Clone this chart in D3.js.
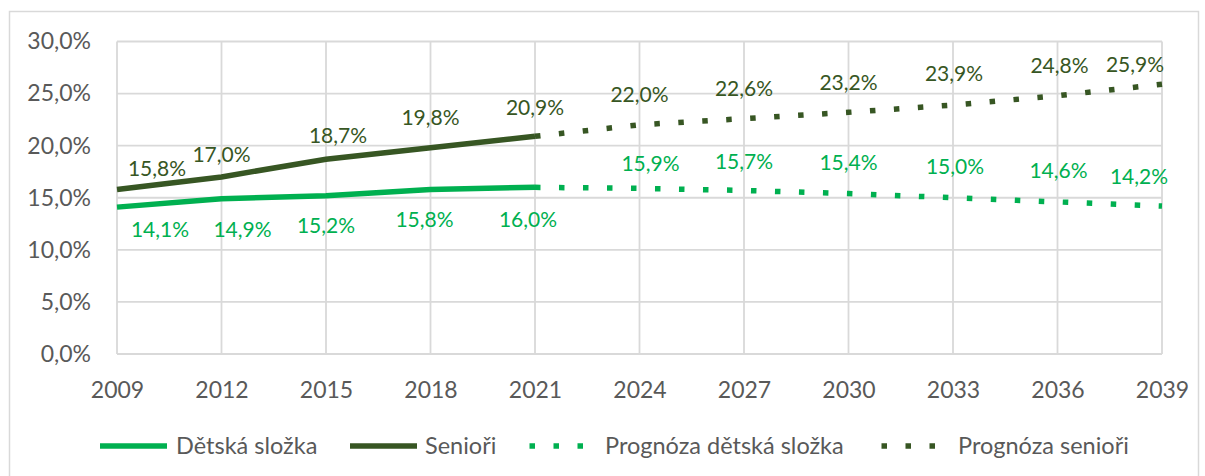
<!DOCTYPE html>
<html>
<head>
<meta charset="utf-8">
<script src="https://cdn.jsdelivr.net/npm/d3@7"></script>
<style>
  html, body { margin: 0; padding: 0; background: #fff; }
  svg { display: block; }
  text { font-family: Lato, "Open Sans", sans-serif; }
</style>
</head>
<body>
<svg id="chart" width="1205" height="476"></svg>
<script>
// ---- data ----
const yearsHist = [2009, 2012, 2015, 2018, 2021];
const yearsForecast = [2021, 2024, 2027, 2030, 2033, 2036, 2039];
const childHist = [14.1, 14.9, 15.2, 15.8, 16.0];
const seniorHist = [15.8, 17.0, 18.7, 19.8, 20.9];
const childForecast = [16.0, 15.9, 15.7, 15.4, 15.0, 14.6, 14.2];
const seniorForecast = [20.9, 22.0, 22.6, 23.2, 23.9, 24.8, 25.9];
const yTicks = [0, 5, 10, 15, 20, 25, 30];
const xTicks = [2009, 2012, 2015, 2018, 2021, 2024, 2027, 2030, 2033, 2036, 2039];
const seriesNames = ["Dětská složka", "Senioři", "Prognóza dětská složka", "Prognóza senioři"];

// ---- label layout nudges (pixels, relative to point) ----
const seniorHistDx = [40, 0, 12, 0, 0];
const seniorHistDy = [-21, -22, -24, -30, -29];
const childHistDx = [43, 21, 0, -6, -7];
const childHistDy = [23, 31, 30, 30, 32];
const seniorFcDx = [null, 0, 0, 0, 1, 2, -27];
const seniorFcDy = [null, -30, -30, -30, -31, -30, -20];
const childFcDx = [null, 11, 0, 0, 2, 1, -23];
const childFcDy = [null, -25, -29, -31, -31, -31, -29];

const cChild = "#00b050";
const cSenior = "#375623";
const cGrid = "#d9d9d9";
const cText = "#595959";

const svg = d3.select("#chart");
const fmt = v => d3.format(".1f")(v).replace(".", ",") + "%";

// chart border
svg.append("rect").attr("x", 9.5).attr("y", 11.5).attr("width", 1189).attr("height", 480)
  .attr("fill", "none").attr("stroke", cGrid).attr("stroke-width", 1.5);

const x = d3.scaleLinear().domain([2009, 2039]).range([117, 1162]);
const y = d3.scaleLinear().domain([0, 30]).range([354, 41.5]);

// gridlines
const grid = svg.append("g");
grid.selectAll("line.h").data(yTicks).join("line")
  .attr("x1", x(2009)).attr("x2", x(2039))
  .attr("y1", d => y(d)).attr("y2", d => y(d))
  .attr("stroke", cGrid).attr("stroke-width", 1.8);
grid.selectAll("line.v").data(xTicks).join("line")
  .attr("x1", d => x(d)).attr("x2", d => x(d))
  .attr("y1", y(30)).attr("y2", y(0))
  .attr("stroke", cGrid).attr("stroke-width", 1.8);

// axes
const yAxis = d3.axisLeft(y).tickValues(yTicks).tickSize(0).tickPadding(0)
  .tickFormat(d => fmt(d));
const ga = svg.append("g").attr("transform", "translate(91,0)").call(yAxis);
ga.select(".domain").remove();
ga.selectAll("text").attr("fill", cText).attr("font-size", 23).attr("font-family", "Lato");

const xAxis = d3.axisBottom(x).tickValues(xTicks).tickSize(0).tickPadding(0)
  .tickFormat(d3.format("d"));
const gx = svg.append("g").attr("transform", "translate(0," + 390 + ")").call(xAxis);
gx.select(".domain").remove();
gx.selectAll("text").attr("fill", cText).attr("font-size", 23).attr("font-family", "Lato")
  .attr("dy", "0.35em");

// lines
const line = d3.line().x(d => x(d[0])).y(d => y(d[1]));
const zip = (a, b) => a.map((v, i) => [v, b[i]]);

svg.append("path").datum(zip(yearsHist, childHist)).attr("d", line)
  .attr("fill", "none").attr("stroke", cChild).attr("stroke-width", 5.5);
svg.append("path").datum(zip(yearsHist, seniorHist)).attr("d", line)
  .attr("fill", "none").attr("stroke", cSenior).attr("stroke-width", 5.5);
svg.append("path").datum(zip(yearsForecast, childForecast)).attr("d", line)
  .attr("fill", "none").attr("stroke", cChild).attr("stroke-width", 5.5)
  .attr("stroke-dasharray", "5.5,18.5");
svg.append("path").datum(zip(yearsForecast, seniorForecast)).attr("d", line)
  .attr("fill", "none").attr("stroke", cSenior).attr("stroke-width", 5.5)
  .attr("stroke-dasharray", "5.5,18.5");

// data labels
function labels(years, vals, dx, dy, color) {
  const items = years.map((yr, i) => ({yr, v: vals[i], dx: dx[i], dy: dy[i]}))
    .filter(d => d.dx !== null);
  svg.append("g").selectAll("text").data(items).join("text")
    .attr("x", d => x(d.yr) + d.dx)
    .attr("y", d => y(d.v) + d.dy)
    .attr("text-anchor", "middle").attr("dy", "0.35em")
    .attr("font-size", 21).attr("fill", color)
    .text(d => fmt(d.v));
}
labels(yearsHist, seniorHist, seniorHistDx, seniorHistDy, cSenior);
labels(yearsHist, childHist, childHistDx, childHistDy, cChild);
labels(yearsForecast, seniorForecast, seniorFcDx, seniorFcDy, cSenior);
labels(yearsForecast, childForecast, childFcDx, childFcDy, cChild);

// legend
const legend = [
  {name: seriesNames[0], color: cChild, dash: null, x0: 100, x1: 167},
  {name: seriesNames[1], color: cSenior, dash: null, x0: 350, x1: 417},
  {name: seriesNames[2], color: cChild, dash: "5.5,18.5", x0: 529.5, x1: 585},
  {name: seriesNames[3], color: cSenior, dash: "5.5,18.5", x0: 881.5, x1: 937},
];
const lg = svg.append("g");
legend.forEach(d => {
  lg.append("line").attr("x1", d.x0).attr("x2", d.x1).attr("y1", 446).attr("y2", 446)
    .attr("stroke", d.color).attr("stroke-width", 5.5)
    .attr("stroke-dasharray", d.dash);
});
const legendTextX = [176, 425, 605, 958];
lg.selectAll("text").data(legend).join("text")
  .attr("x", (d, i) => legendTextX[i]).attr("y", 446).attr("dy", "0.35em")
  .attr("font-size", 23.5).attr("fill", cText).text(d => d.name);
</script>
</body>
</html>
